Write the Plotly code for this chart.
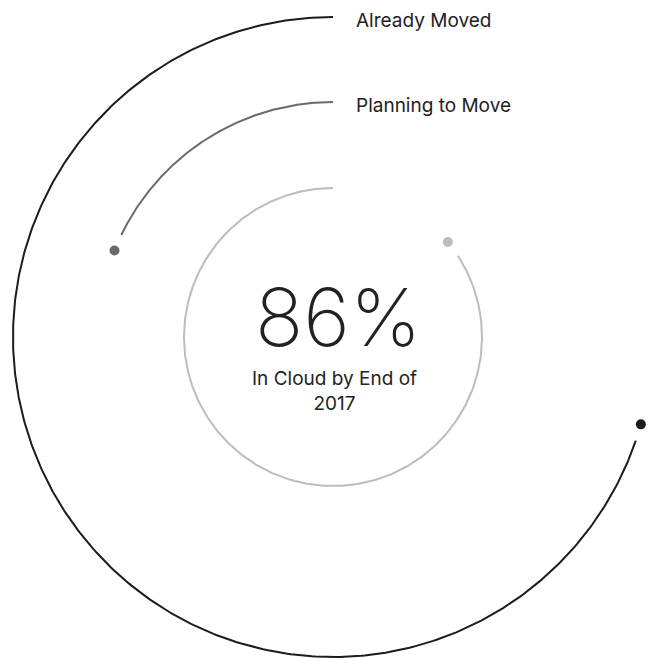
import numpy as np
import plotly.graph_objects as go

# Data
categories = ["Already Moved", "Planning to Move", "In Cloud by End of 2017"]
values = [70.6, 19.0, 86.0]          # percent of full circle (dot position)
show_label = [True, True, False]
center_value = "86%"
center_caption = "In Cloud by End of<br>2017"

# Styles
radii = [320, 235, 149]
colors = ["#1c1c1c", "#6a6a6a", "#bdbdbd"]
gap_px = 17

fig = go.Figure()

for cat, v, r, c in zip(categories, values, radii, colors):
    t_end = v / 100 * 2 * np.pi
    t_line = t_end - gap_px / r
    t = np.linspace(0, t_line, 400)
    fig.add_trace(go.Scatter(x=-r * np.sin(t), y=r * np.cos(t), mode="lines",
                             line=dict(color=c, width=2), hoverinfo="skip", showlegend=False))
    fig.add_trace(go.Scatter(x=[-r * np.sin(t_end)], y=[r * np.cos(t_end)], mode="markers",
                             marker=dict(color=c, size=10), hoverinfo="skip", showlegend=False))

for cat, r, s in zip(categories, radii, show_label):
    if s:
        fig.add_annotation(x=21, y=r - 3, text=cat, showarrow=False, xanchor="left", yanchor="middle",
                           font=dict(family="Inter", size=19, color="#222222"))

fig.add_annotation(x=5, y=21, text=center_value, showarrow=False, xanchor="center", yanchor="middle",
                   font=dict(family="Inter", size=80, color="#222222", weight=200))
fig.add_annotation(x=1, y=-54, text=center_caption, showarrow=False, xanchor="center", yanchor="middle",
                   font=dict(family="Inter", size=19, color="#222222"))

fig.update_layout(
    width=650, height=658, margin=dict(l=0, r=0, t=0, b=0),
    paper_bgcolor="white", plot_bgcolor="white",
    xaxis=dict(range=[-333, 317], visible=False, fixedrange=True),
    yaxis=dict(range=[-321, 337], visible=False, fixedrange=True),
)
fig.write_html("out.html")
